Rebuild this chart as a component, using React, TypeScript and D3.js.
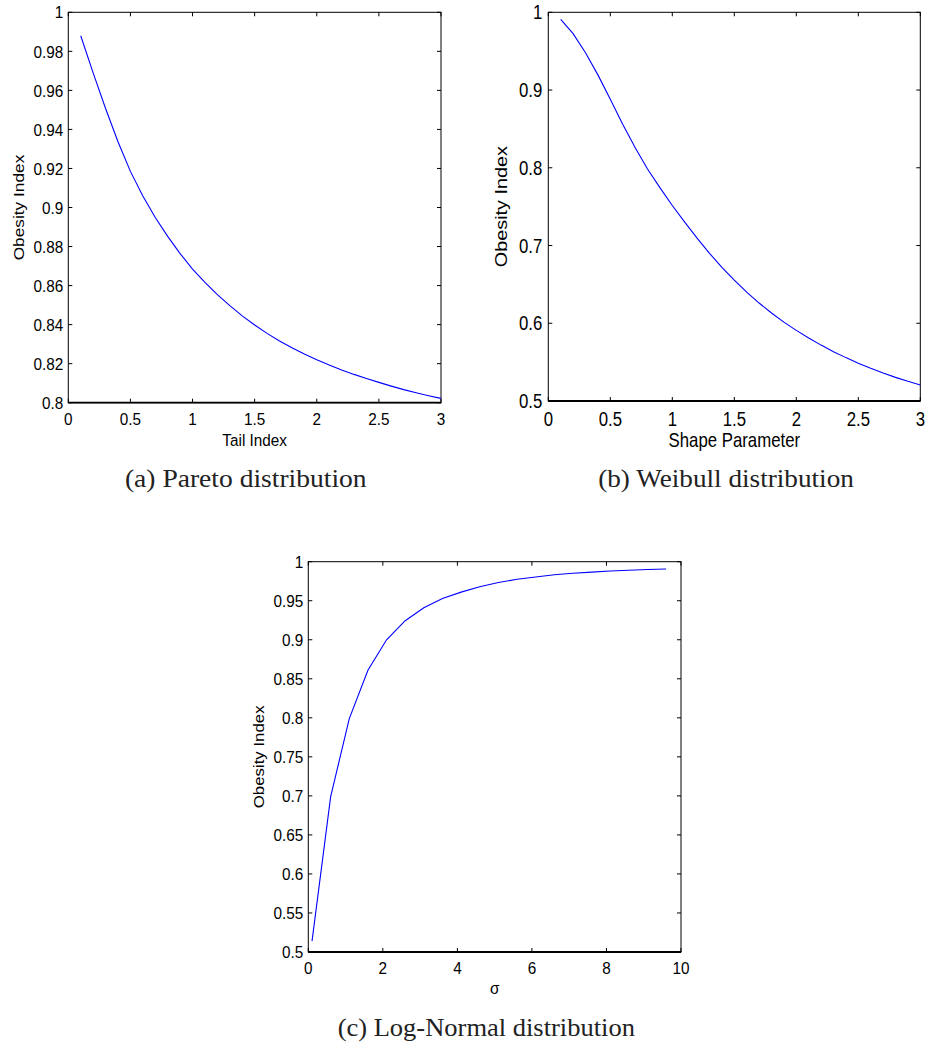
import React from 'react';
import * as d3 from 'd3';

// Pareto: obesity index vs tail index
const paretoX = [0.1, 0.2, 0.3, 0.4, 0.5, 0.6, 0.7, 0.8, 0.9, 1.0, 1.1, 1.2, 1.3, 1.4, 1.5, 1.6, 1.7, 1.8, 1.9, 2.0, 2.1, 2.2, 2.3, 2.4, 2.5, 2.6, 2.7, 2.8, 2.9, 3.0];
const paretoY = [0.988, 0.969, 0.9507, 0.9337, 0.9185, 0.9059, 0.8949, 0.8852, 0.8764, 0.8684, 0.8616, 0.8554, 0.8497, 0.8445, 0.8398, 0.8355, 0.8316, 0.8281, 0.8249, 0.822, 0.8193, 0.8168, 0.8145, 0.8124, 0.8104, 0.8085, 0.8067, 0.8051, 0.8036, 0.8022];

// Weibull: obesity index vs shape parameter
const weibullX = [0.1, 0.2, 0.3, 0.4, 0.5, 0.6, 0.7, 0.8, 0.9, 1.0, 1.1, 1.2, 1.3, 1.4, 1.5, 1.6, 1.7, 1.8, 1.9, 2.0, 2.1, 2.2, 2.3, 2.4, 2.5, 2.6, 2.7, 2.8, 2.9, 3.0];
const weibullY = [0.991, 0.9725, 0.948, 0.9195, 0.888, 0.856, 0.826, 0.7985, 0.7745, 0.7515, 0.73, 0.7095, 0.69, 0.672, 0.6555, 0.64, 0.626, 0.6132, 0.6015, 0.5908, 0.581, 0.5719, 0.5635, 0.5558, 0.5487, 0.5421, 0.536, 0.5304, 0.5253, 0.5206];

// Log-normal: obesity index vs sigma
const lognormX = [0.1, 0.6, 1.1, 1.6, 2.1, 2.6, 3.1, 3.6, 4.1, 4.6, 5.1, 5.6, 6.1, 6.6, 7.1, 7.6, 8.1, 8.6, 9.1, 9.6];
const lognormY = [0.514, 0.699, 0.799, 0.861, 0.9, 0.9244, 0.941, 0.953, 0.961, 0.968, 0.9733, 0.9775, 0.9805, 0.9832, 0.9852, 0.9866, 0.988, 0.9891, 0.99, 0.9906];

const ticks05to3 = [0, 0.5, 1, 1.5, 2, 2.5, 3];
const paretoYTicks = [0.8, 0.82, 0.84, 0.86, 0.88, 0.9, 0.92, 0.94, 0.96, 0.98, 1];
const weibullYTicks = [0.5, 0.6, 0.7, 0.8, 0.9, 1];
const lognormXTicks = [0, 2, 4, 6, 8, 10];
const lognormYTicks = [0.5, 0.55, 0.6, 0.65, 0.7, 0.75, 0.8, 0.85, 0.9, 0.95, 1];

const fmt = (v: number) => String(+v.toFixed(2));
const SANS = '"Liberation Sans", Arial, sans-serif';
const SERIF = '"Liberation Serif", "Times New Roman", serif';

type PanelProps = {
  x0: number; x1: number; y0: number; y1: number;
  xDomain: [number, number]; yDomain: [number, number];
  xTicks: number[]; yTicks: number[];
  xs: number[]; ys: number[];
  fs: number; sy: number;
  xLabel: string; xLabelY: number; xTickY: number;
  yLabelX: number; yTickX: number;
  caption: string; capX: number; capY: number; capLen: number;
};

const Panel = (p: PanelProps) => {
  const x = d3.scaleLinear().domain(p.xDomain).range([p.x0, p.x1]);
  const y = d3.scaleLinear().domain(p.yDomain).range([p.y1, p.y0]);
  const line = d3.line<number>().x((_, i) => x(p.xs[i])).y(d => y(d));
  const tl = 4;
  const st = (tx: number, ty: number) => `translate(${tx},${ty}) scale(1,${p.sy})`;
  const capH = p.fs * 0.716 * p.sy;

  return (
    <g>
      <rect x={p.x0} y={p.y0} width={p.x1 - p.x0} height={p.y1 - p.y0} fill="none" stroke="#000" strokeWidth={1} />
      <line x1={p.x0} x2={p.x1} y1={p.y1} y2={p.y1} stroke="#000" strokeWidth={1.8} />
      {p.xTicks.map(t => (
        <g key={'x' + t}>
          <line x1={x(t)} x2={x(t)} y1={p.y1} y2={p.y1 - tl} stroke="#000" />
          <line x1={x(t)} x2={x(t)} y1={p.y0} y2={p.y0 + tl} stroke="#000" />
          <text transform={st(x(t), p.xTickY)} textAnchor="middle" fontFamily={SANS} fontSize={p.fs} fill="#000">{fmt(t)}</text>
        </g>
      ))}
      {p.yTicks.map(t => (
        <g key={'y' + t}>
          <line x1={p.x0} x2={p.x0 + tl} y1={y(t)} y2={y(t)} stroke="#000" />
          <line x1={p.x1} x2={p.x1 - tl} y1={y(t)} y2={y(t)} stroke="#000" />
          <text transform={st(p.yTickX, y(t) + capH / 2)} textAnchor="end" fontFamily={SANS} fontSize={p.fs} fill="#000">{fmt(t)}</text>
        </g>
      ))}
      <path d={line(p.ys) || ''} fill="none" stroke="#0000ff" strokeWidth={1.1} />
      <text transform={st((p.x0 + p.x1) / 2, p.xLabelY)} textAnchor="middle" fontFamily={SANS} fontSize={p.fs} fill="#000">{p.xLabel}</text>
      <text transform={`translate(${p.yLabelX},${(p.y0 + p.y1) / 2}) scale(1,${p.sy}) rotate(-90)`} textAnchor="middle" fontFamily={SANS} fontSize={p.fs} fill="#000">Obesity Index</text>
      <text x={p.capX} y={p.capY} textAnchor="middle" fontFamily={SERIF} fontSize={26} textLength={p.capLen} lengthAdjust="spacingAndGlyphs" fill="#222">{p.caption}</text>
    </g>
  );
};

export default function App() {
  return (
    <svg width={925} height={1046} style={{ position: 'absolute', left: 0, top: 0, background: '#fff' }}>
      <Panel x0={68.3} x1={441} y0={12.3} y1={402.7} xDomain={[0, 3]} yDomain={[0.8, 1]}
        xTicks={ticks05to3} yTicks={paretoYTicks} xs={paretoX} ys={paretoY}
        fs={15.3} sy={1.13} xLabel="Tail Index" xLabelY={445.5} xTickY={424.5}
        yLabelX={24} yTickX={63.3}
        caption="(a) Pareto distribution" capX={245.8} capY={487} capLen={241.7} />
      <Panel x0={548.3} x1={920.3} y0={12.3} y1={401} xDomain={[0, 3]} yDomain={[0.5, 1]}
        xTicks={ticks05to3} yTicks={weibullYTicks} xs={weibullX} ys={weibullY}
        fs={16.8} sy={1.18} xLabel="Shape Parameter" xLabelY={447} xTickY={426}
        yLabelX={506.5} yTickX={542.3}
        caption="(b) Weibull distribution" capX={726} capY={487} capLen={255.7} />
      <Panel x0={308.3} x1={681} y0={561.7} y1={952} xDomain={[0, 10]} yDomain={[0.5, 1]}
        xTicks={lognormXTicks} yTicks={lognormYTicks} xs={lognormX} ys={lognormY}
        fs={15.3} sy={1.1} xLabel="σ" xLabelY={994} xTickY={974}
        yLabelX={264} yTickX={303.3}
        caption="(c) Log-Normal distribution" capX={486.3} capY={1036} capLen={297.3} />
    </svg>
  );
}
